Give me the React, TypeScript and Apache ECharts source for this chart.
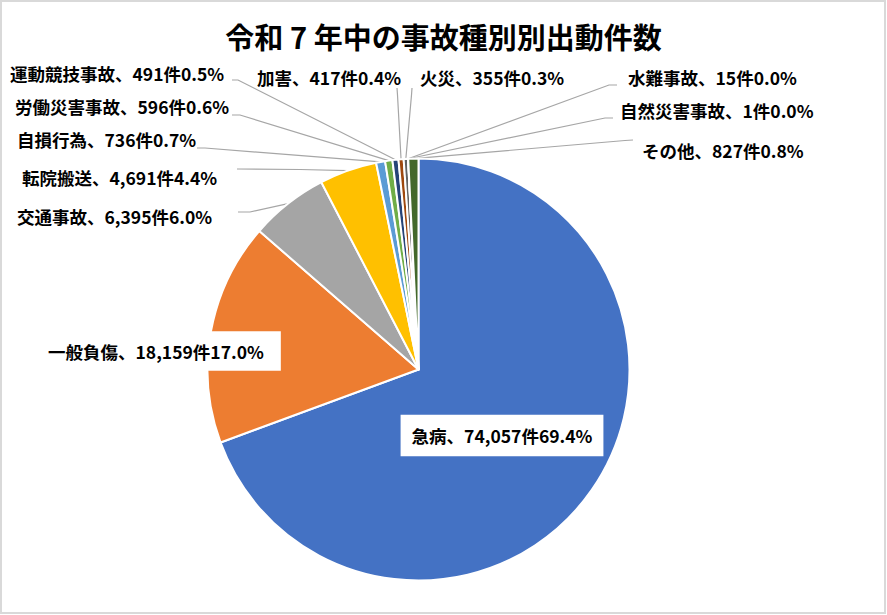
import { useEffect, useRef } from "react";
import * as echarts from "echarts";

// 種別ごとの出動件数（令和7年中）
const CATEGORIES = [
  "急病",
  "一般負傷",
  "交通事故",
  "転院搬送",
  "自損行為",
  "労働災害事故",
  "運動競技事故",
  "加害",
  "火災",
  "水難事故",
  "自然災害事故",
  "その他",
];
const COUNTS = [74057, 18159, 6395, 4691, 736, 596, 491, 417, 355, 15, 1, 827];
const COLORS = [
  "#4472C4",
  "#ED7D31",
  "#A5A5A5",
  "#FFC000",
  "#5B9BD5",
  "#70AD47",
  "#264478",
  "#9E480E",
  "#636363",
  "#997300",
  "#255E91",
  "#43682B",
];

const TITLE = "令和 7 年中の事故種別別出動件数";

// ラベルの配置（x, y, 揃え）
const CENTER: [number, number] = [418.5, 369.5];
const RADIUS = 211;
const LABEL_POS: [number, number, "left" | "center"][] = [
  [502, 435.5, "center"],
  [31, 351, "left"],
  [17, 216, "left"],
  [22, 177, "left"],
  [17, 139, "left"],
  [15, 106, "left"],
  [10, 73, "left"],
  [257, 77, "left"],
  [420, 77, "left"],
  [628, 77, "left"],
  [620, 110, "left"],
  [642, 150, "left"],
];
// 引き出し線のラベル側の端点と折れ点
const LINE_END: ([number, number] | null)[] = [
  null,
  null,
  [238, 212],
  [237, 169],
  [197, 148],
  [232, 115],
  [232, 80],
  [397, 88],
  [412, 88],
  [617, 85],
  [613, 118],
  [633, 140],
];
const LINE_ELBOW: ([number, number] | null)[] = [
  null,
  null,
  [250, 212],
  [300, 169.5],
  [205, 148],
  [240, 115],
  [238, 80],
  [397.5, 95],
  [411.5, 95],
  [609, 85],
  [605, 118],
  [625, 140.5],
];

const TOTAL = COUNTS.reduce((a, b) => a + b, 0);

// 扇形の中央角度から外周上の点を求める
function edgePoint(index: number): [number, number] {
  let before = 0;
  for (let i = 0; i < index; i++) before += COUNTS[i];
  const mid = (before + COUNTS[index] / 2) / TOTAL;
  const angle = mid * Math.PI * 2;
  return [
    CENTER[0] + RADIUS * Math.sin(angle),
    CENTER[1] - RADIUS * Math.cos(angle),
  ];
}

function App() {
  const containerRef = useRef<HTMLDivElement>(null);

  useEffect(() => {
    document.body.style.margin = "0";
    if (!containerRef.current) return;
    const chart = echarts.init(containerRef.current, null, { renderer: "svg" });

    const data = CATEGORIES.map((name, i) => {
      const item: any = {
        name,
        value: COUNTS[i],
        itemStyle: { color: COLORS[i] },
      };
      if (i === 0) {
        item.label = { backgroundColor: "#fff", padding: [12, 11, 12, 11] };
        item.labelLine = { show: false };
      }
      if (i === 1) {
        item.label = { backgroundColor: "#fff", padding: [11, 17, 11, 17] };
        item.labelLine = { show: false };
      }
      return item;
    });

    chart.setOption({
      animation: false,
      backgroundColor: "#fff",
      title: {
        text: TITLE,
        left: "center",
        top: 16,
        textStyle: {
          fontFamily: "Noto Sans CJK JP",
          fontSize: 29,
          fontWeight: "bold",
          color: "#000",
        },
      },
      graphic: [
        {
          type: "rect",
          shape: { x: 1, y: 1, width: 884, height: 612 },
          style: { fill: "none", stroke: "#d9d9d9", lineWidth: 2 },
          silent: true,
        },
      ],
      series: [
        {
          type: "pie",
          center: CENTER,
          radius: RADIUS,
          startAngle: 90,
          clockwise: true,
          avoidLabelOverlap: false,
          itemStyle: { borderColor: "#fff", borderWidth: 2 },
          label: {
            show: true,
            position: "outside",
            fontFamily: "Noto Sans CJK JP",
            fontWeight: "bold",
            fontSize: 17.5,
            color: "#000",
            formatter: (p: any) =>
              `${p.name}、${p.value.toLocaleString("en-US")}件${(
                (p.value / TOTAL) *
                100
              ).toFixed(1)}%`,
          },
          labelLine: {
            show: true,
            lineStyle: { color: "#a6a6a6", width: 1.2 },
          },
          labelLayout: (params: any) => {
            const i = params.dataIndex;
            const [x, y, align] = LABEL_POS[i];
            const res: any = { x, y, align, verticalAlign: "middle" };
            const end = LINE_END[i];
            const elbow = LINE_ELBOW[i];
            if (end && elbow) {
              res.labelLinePoints = [edgePoint(i), elbow, end];
            }
            return res;
          },
          data,
        },
      ],
    });

    return () => {
      chart.dispose();
    };
  }, []);

  return <div ref={containerRef} style={{ width: 887, height: 615 }}></div>;
}

export default App;
